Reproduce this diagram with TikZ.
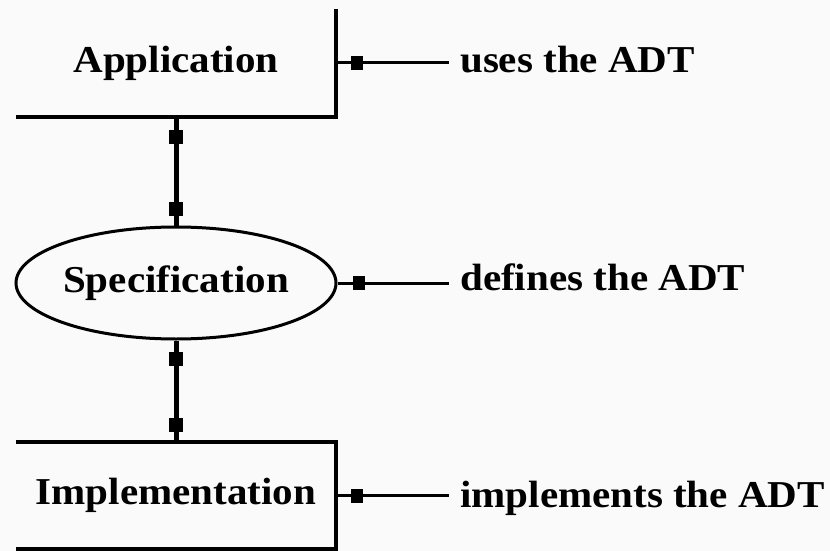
\documentclass[tikz,border=0pt]{standalone}
\usepackage{fontspec}
\newfontfamily\diafont[FakeStretch=1.08]{Liberation Serif}
\usetikzlibrary{shapes.geometric,decorations.markings,calc}
\definecolor{bgc}{RGB}{250,250,250}
\begin{document}
\begin{tikzpicture}[x=1pt,y=-1pt,
  lab/.style={font=\diafont\bfseries\fontsize{38}{40}\selectfont, inner sep=0pt, text=black},
  boxn/.style={lab, minimum width=320pt},
  edge/.style={line width=4pt, line join=miter},
  side/.style={line width=3pt, decoration={markings,
      mark=at position 21pt with {\fill (-6,-7) rectangle (6,7);}},
      postaction={decorate}},
  vert/.style={line width=5pt, decoration={markings,
      mark=at position #1 with {\fill (-7,-7) rectangle (7,7);},
      mark=at position -17pt with {\fill (-7,-7) rectangle (7,7);}},
      postaction={decorate}}]
\fill[bgc] (0,0) rectangle (830,551);
\useasboundingbox (0,0) rectangle (830,551);

% boxes
\node[boxn, minimum height=108pt] (app) at (176,63) {Application};
\draw[edge] (app.north east) -- (app.south east) -- (app.south west);

\node[lab, draw, ellipse, line width=3pt, minimum width=320pt, minimum height=112pt] (spec) at (176,283) {Specification};

\node[boxn, minimum height=107pt] (impl) at (176,495.5) {Implementation};
\draw[edge] (impl.north west) -- (impl.north east) -- (impl.south east) -- (impl.south west);

% side texts
\node[lab, anchor=base west] (uses) at (460,73) {uses the ADT};
\node[lab, anchor=base west] (defs) at (460,290) {defines the ADT};
\node[lab, anchor=base west] (impls) at (460,507) {implements the ADT};

% side connectors
\draw[side] (app.east) -- ($(app.east -| uses.west)+(-11,0)$);
\draw[side] (spec.east) -- ($(spec.east -| defs.west)+(-11,0)$);
\draw[side] (impl.east) -- ($(impl.east -| impls.west)+(-11,0)$);

% vertical connectors
\draw[vert=20pt] (app.south) -- (spec.north);
\draw[vert=18pt] (spec.south) -- (impl.north);
\end{tikzpicture}
\end{document}
